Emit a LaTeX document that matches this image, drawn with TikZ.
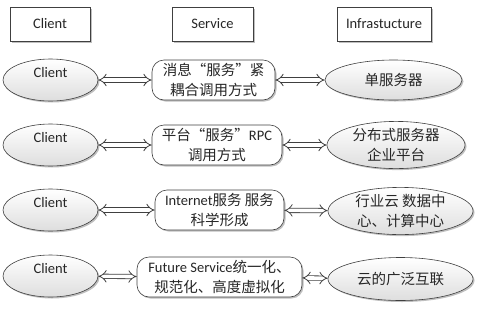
\documentclass[tikz,border=0pt]{standalone}
\usepackage{fontspec}
\setmainfont{Carlito}
\newfontfamily\cjk{Noto Sans CJK SC}
\usetikzlibrary{arrows.meta,shapes.geometric,shadows}

\begin{document}
\begin{tikzpicture}[x=1pt,y=-1pt,font=\fontsize{14.5}{20}\selectfont,
	box/.style={draw=black!75,line width=0.6pt,inner sep=0pt,align=center,text=black!85,
		drop shadow={shadow xshift=1.5pt,shadow yshift=-1.5pt,fill=black,opacity=0.25}},
	head/.style={box,rectangle,fill=white,minimum height=34pt},
	oval/.style={box,ellipse,top color=white,bottom color=black!13},
	client/.style={oval,minimum width=95pt,minimum height=42pt,text depth=16pt},
	svc/.style={box,rectangle,rounded corners=12pt,fill=white,minimum height=40pt},
	link/.style={draw=black!75,line width=0.8pt,double=white,double distance=3.6pt,
		{Implies[length=6pt,width=12pt]}-{Implies[length=6pt,width=12pt]}}]
	\useasboundingbox (0,0) rectangle (480,309);
	\node[head,minimum width=80pt] (hc) at (50,24) {Client};
	\node[head,minimum width=81pt] (hs) at (212.5,24) {Service};
	\node[head,minimum width=94pt] (hi) at (384,24) {Infrastucture};

	\node[client] (c1) at (50.5,80) {Client};
	\node[svc,minimum width=123pt] (s1) at (213.5,80) {\cjk 消息“服务”紧\\\cjk 耦合调用方式};
	\node[oval,minimum width=137pt,minimum height=40pt] (i1) at (393.5,80) {\cjk 单服务器};

	\node[client] (c2) at (50.5,145) {Client};
	\node[svc,minimum width=130pt] (s2) at (217,145) {{\cjk 平台“服务”}RPC\\\cjk 调用方式};
	\node[oval,minimum width=138pt,minimum height=44pt] (i2) at (396,145) {\cjk 分布式服务器\\\cjk 企业平台};

	\node[client] (c3) at (50.5,210) {Client};
	\node[svc,minimum width=129pt] (s3) at (219.5,210) {Internet{\cjk 服务 服务}\\\cjk 科学形成};
	\node[oval,minimum width=145pt,minimum height=47pt] (i3) at (400.5,211) {\cjk 行业云 数据中\\\cjk 心、计算中心};

	\node[client] (c4) at (50.5,276) {Client};
	\node[svc,minimum width=165pt] (s4) at (219.5,277) {Future Service{\cjk 统一化、}\\\cjk 规范化、高度虚拟化};
	\node[oval,minimum width=145pt,minimum height=43pt] (i4) at (400.5,279) {\cjk 云的广泛互联};

	\draw[link] (c1) -- (s1);
	\draw[link] (s1) -- (i1);
	\draw[link] (c2) -- (s2);
	\draw[link] (s2) -- (i2);
	\draw[link] (c3) -- (s3);
	\draw[link] (s3) -- (i3);
	\draw[link] (c4) -- (s4);
	\draw[link] (s4) -- (i4);
\end{tikzpicture}
\end{document}
